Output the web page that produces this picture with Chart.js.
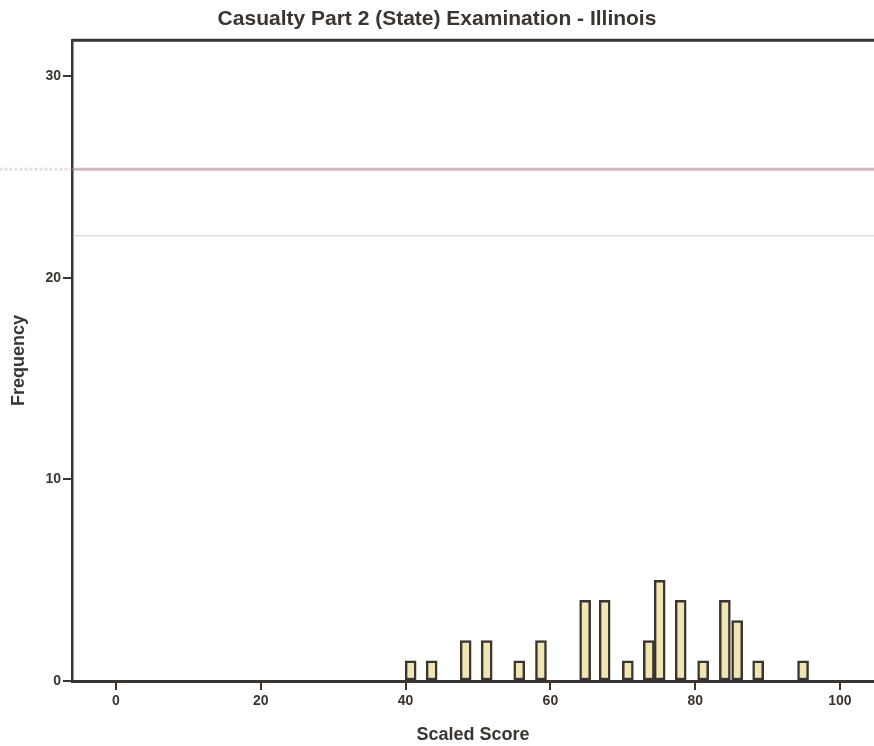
<!DOCTYPE html>
<html>
<head>
<meta charset="utf-8">
<script src="https://cdn.jsdelivr.net/npm/chart.js@4.4.1/dist/chart.umd.min.js"></script>
<style>
  html, body { margin: 0; padding: 0; background: #ffffff; }
  #wrap { width: 874px; height: 746px; position: relative; }
</style>
</head>
<body>
<div id="wrap"><canvas id="c" width="874" height="746"></canvas></div>
<script>
// ---- data ----
const scores      = [40.7, 43.6, 48.3, 51.2, 55.7, 58.7, 64.8, 67.5, 70.7, 73.6, 75.1, 78.0, 81.1, 84.1, 85.8, 88.7, 94.9];
const frequencies = [1,    1,    2,    2,    1,    2,    4,    4,    1,    2,    5,    4,    1,    4,    3,    1,    1];
const xTicks      = [0, 20, 40, 60, 80, 100];
const yTicks      = [0, 10, 20, 30];
const upperLineLevel = 25.4;
const lowerLineLevel = 22.1;
const titleText  = 'Casualty Part 2 (State) Examination - Illinois';
const xTitleText = 'Scaled Score';
const yTitleText = 'Frequency';

const ink = '#3a3530';
const fontFam = "'Liberation Sans', Arial, sans-serif";

const barPoints = scores.map((s, i) => ({ x: s, y: frequencies[i] }));

const framePlugin = {
  id: 'frameTop',
  afterDraw(chart) {
    const { ctx, chartArea } = chart;
    ctx.save();
    ctx.strokeStyle = ink;
    ctx.lineWidth = 3;
    ctx.beginPath();
    ctx.moveTo(chartArea.left, chartArea.top);
    ctx.lineTo(chartArea.right, chartArea.top);
    ctx.stroke();
    ctx.restore();
  }
};

new Chart(document.getElementById('c'), {
  type: 'bar',
  data: {
    datasets: [
      {
        type: 'line',
        data: [{ x: -16.1, y: upperLineLevel }, { x: -6.08, y: upperLineLevel }],
        borderColor: 'rgba(165,125,135,0.25)',
        borderWidth: 3,
        borderDash: [3, 2],
        pointRadius: 0,
        clip: false,
        order: 2
      },
      {
        type: 'line',
        data: [{ x: -6.08, y: upperLineLevel }, { x: 104.7, y: upperLineLevel }],
        borderColor: 'rgba(165,125,135,0.55)',
        borderWidth: 3,
        pointRadius: 0,
        order: 2
      },
      {
        type: 'line',
        data: [{ x: -6.08, y: lowerLineLevel }, { x: 104.7, y: lowerLineLevel }],
        borderColor: 'rgba(140,140,140,0.3)',
        borderWidth: 1.5,
        pointRadius: 0,
        order: 2
      },
      {
        type: 'bar',
        data: barPoints,
        backgroundColor: '#f1e6b3',
        borderColor: ink,
        borderWidth: 2.5,
        borderSkipped: false,
        barThickness: 11,
        order: 1
      }
    ]
  },
  options: {
    responsive: false,
    animation: false,
    layout: { padding: { left: 0, right: 0, top: 0, bottom: 0 } },
    plugins: {
      legend: { display: false },
      tooltip: { enabled: false },
      title: {
        display: true,
        text: titleText,
        color: ink,
        font: { family: fontFam, size: 21, weight: 'bold' },
        padding: { top: 7, bottom: 8 }
      }
    },
    scales: {
      x: {
        type: 'linear',
        min: -6.08,
        max: 104.7,
        offset: false,
        afterFit(scale) { scale.height = 65; },
        afterBuildTicks(scale) { scale.ticks = xTicks.map(v => ({ value: v })); },
        ticks: {
          color: ink,
          font: { family: fontFam, size: 14, weight: 'bold' },
          padding: 3,
          maxRotation: 0,
          autoSkip: false
        },
        grid: { offset: false, drawOnChartArea: false, drawTicks: true, tickLength: 9, color: ink, lineWidth: 2 },
        border: { display: true, color: ink, width: 3 },
        title: {
          display: true,
          text: xTitleText,
          color: ink,
          font: { family: fontFam, size: 18, weight: 'bold' },
          padding: { top: 10, bottom: 0 }
        }
      },
      y: {
        type: 'linear',
        min: 0,
        max: 31.8,
        afterFit(scale) { scale.width = 72; },
        afterBuildTicks(scale) { scale.ticks = yTicks.map(v => ({ value: v })); },
        ticks: {
          color: ink,
          font: { family: fontFam, size: 14, weight: 'bold' },
          padding: 2
        },
        grid: { drawOnChartArea: false, drawTicks: true, tickLength: 9, color: ink, lineWidth: 2 },
        border: { display: true, color: ink, width: 2.5 },
        title: {
          display: true,
          text: yTitleText,
          color: ink,
          font: { family: fontFam, size: 18, weight: 'bold' },
          padding: { top: 8, bottom: 16 }
        }
      }
    }
  },
  plugins: [framePlugin]
});
</script>
</body>
</html>
